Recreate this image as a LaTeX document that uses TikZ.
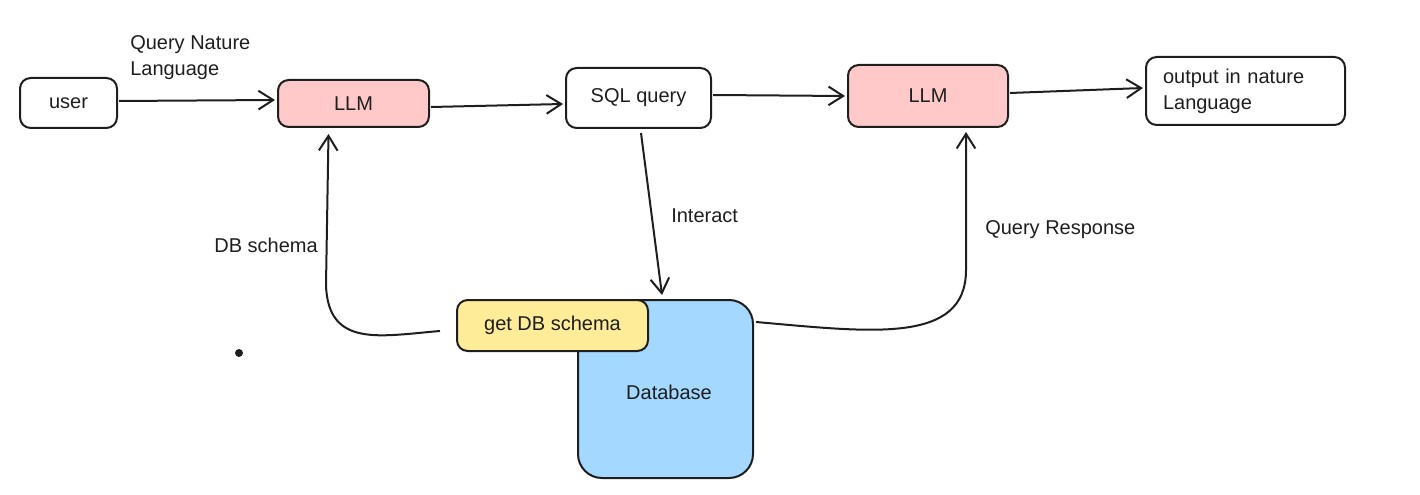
\documentclass[tikz,border=0pt]{standalone}
\usepackage{fontspec}
\setmainfont{Liberation Sans}
\usetikzlibrary{arrows.meta,calc}
\definecolor{ink}{HTML}{1E1E1E}
\definecolor{pinkf}{HTML}{FFC9C9}
\definecolor{yellowf}{HTML}{FFEC99}
\definecolor{bluef}{HTML}{A5D8FF}
\tikzset{
  box/.style={draw=ink, line width=1.5pt, rounded corners=8pt, inner sep=0pt, align=center, font=\fontsize{15}{19.5}\selectfont, text=ink},
  lbl/.style={inner sep=0pt, font=\fontsize{15}{19.5}\selectfont, text=ink, align=left},
  arr/.style={draw=ink, line width=1.5pt, -{Straight Barb[length=11pt,width=14pt,line width=1.5pt]}},
}
\begin{document}
\begin{tikzpicture}[x=0.75pt,y=-0.75pt]
\useasboundingbox (0,0) rectangle (1420,495);
% nodes
\node[box, minimum width=72.75pt, minimum height=37.5pt] (user) at (68.5,103) {user};
\node[box, fill=pinkf, minimum width=113.25pt, minimum height=35.25pt] (llm1) at (353.5,103.5) {LLM};
\node[box, minimum width=108.75pt, minimum height=45pt] (sql) at (638.5,98) {SQL query};
\node[box, fill=pinkf, minimum width=120pt, minimum height=46.5pt] (llm2) at (928,96) {LLM};
\node[box, minimum width=149.25pt, minimum height=51pt, text width=123.75pt, align=left] (out) at (1245.5,91) {output in nature\\Language};
\node[box, fill=bluef, minimum width=131.25pt, minimum height=133.5pt, rounded corners=18pt] (db) at (665.5,389) {};
\node[lbl] (dbt) at (669,392) {Database};
\node[box, fill=yellowf, minimum width=143.25pt, minimum height=38.25pt] (gs) at (552.5,325.5) {get DB schema};
\fill[ink] (239,353) circle (3pt) coordinate (dot);
% labels
\node[lbl, anchor=west] (qnl) at (130,58) {Query Nature\\Language};
\node[lbl, anchor=west] (inter) at (671,216) {Interact};
\node[lbl] (dbs) at (266,245) {DB schema};
\node[lbl, anchor=west] (qr) at (985,230) {Query Response};
% connectors
\draw[arr] ($(user.east)+(1,-2)$) -- ($(llm1.west)+(-2,-3.5)$);
\draw[arr] ($(llm1.east)+(1,3.5)$) -- ($(sql.west)+(-2,6)$);
\draw[arr] ($(sql.east)+(1,-3)$) -- ($(llm2.west)+(-2,0)$);
\draw[arr] ($(llm2.east)+(1,-3)$) -- ($(out.west)+(-2,-3)$);
\draw[arr] ($(sql.south)+(2.5,4)$) -- ($(db.north)+(-3.5,-4)$);
\coordinate (gsa) at ($(gs.west)+(-16,5.5)$);
\draw[arr] (gsa) .. controls (380,336) and (328,348) .. (326,285) -- ($(llm1.south)+(-25,6)$);
\coordinate (dba) at ($(db.north east)+(2,23)$);
\draw[arr] (dba) .. controls (870,332) and (966,345) .. (966,270) -- ($(llm2.south)+(38,4)$);
\end{tikzpicture}
\end{document}
